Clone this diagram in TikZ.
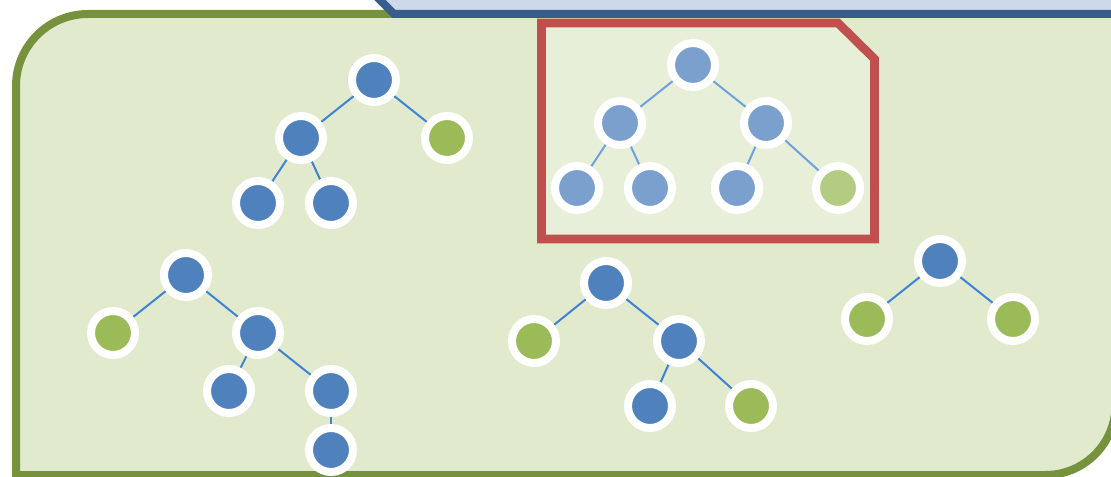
\documentclass[tikz,border=0pt]{standalone}
\pgfdeclarelayer{back}
\pgfdeclarelayer{edges}
\pgfdeclarelayer{front}
\pgfsetlayers{back,edges,main,front}
\begin{document}
\begin{tikzpicture}[x=0.75pt,y=-0.75pt,
  edge/.style={draw=edgeblue,line width=1.5pt},
  tn/.style={circle,draw=white,line width=6pt,minimum size=33pt,inner sep=0pt},
  bn/.style={tn,fill=nodeblue},
  gn/.style={tn,fill=nodegreen}]
\definecolor{nodeblue}{HTML}{4F81BD}
\definecolor{nodegreen}{HTML}{9BBB59}
\definecolor{edgeblue}{HTML}{3C82D6}
\definecolor{olive}{HTML}{76923C}
\definecolor{palegreen}{HTML}{E1EACD}
\definecolor{paleblue}{HTML}{CDD9EA}
\definecolor{darkblue}{HTML}{385D8A}
\definecolor{redline}{HTML}{C0504D}
\useasboundingbox (0,0) rectangle (1111,477);
\clip (0,0) rectangle (1111,477);
\begin{pgfonlayer}{back}
% container
\draw[olive,line width=6pt,fill=palegreen]
  (16,500) -- (16,86) arc[start angle=180,end angle=270,radius=72] -- (1130,14)
  -- (1115.5,14) -- (1115.5,405) arc[start angle=0,end angle=90,radius=70] -- (16,475) -- cycle;
\end{pgfonlayer}
% tree 1
\node[bn] (a1) at (374,80) {};
\node[bn] (a2) at (301,138) {};
\node[gn] (a3) at (447,138) {};
\node[bn] (a4) at (258,203) {};
\node[bn] (a5) at (331,203) {};
% tree 2 (highlighted)
\node[bn] (b1) at (693,65) {};
\node[bn] (b2) at (620,123) {};
\node[bn] (b3) at (766,123) {};
\node[bn] (b4) at (577,188) {};
\node[bn] (b5) at (650,188) {};
\node[bn] (b6) at (737,188) {};
\node[gn] (b7) at (838,188) {};
% tree 3
\node[bn] (c1) at (186,275) {};
\node[gn] (c2) at (113,333) {};
\node[bn] (c3) at (258,333) {};
\node[bn] (c4) at (229,391) {};
\node[bn] (c5) at (331,391) {};
\node[bn] (c6) at (331,450) {};
% tree 4
\node[bn] (d1) at (606,283) {};
\node[gn] (d2) at (534,341) {};
\node[bn] (d3) at (679,341) {};
\node[bn] (d4) at (650,406) {};
\node[gn] (d5) at (751,406) {};
% tree 5
\node[bn] (e1) at (940,261) {};
\node[gn] (e2) at (867,319) {};
\node[gn] (e3) at (1013,319) {};
\begin{pgfonlayer}{edges}
\foreach \u/\v in {a1/a2,a1/a3,a2/a4,a2/a5,b1/b2,b1/b3,b2/b4,b2/b5,b3/b6,b3/b7,
  c1/c2,c1/c3,c3/c4,c3/c5,c5/c6,d1/d2,d1/d3,d3/d4,d3/d5,e1/e2,e1/e3}
  \draw[edge] (\u.center) -- (\v.center);
\end{pgfonlayer}
\begin{pgfonlayer}{front}
% highlight box
\coordinate (r1) at (541.5,23);
\coordinate (r2) at (838,23);
\coordinate (r3) at (874.5,59);
\coordinate (r4) at (874.5,239);
\coordinate (r5) at (541.5,239);
\fill[white,opacity=0.25] (r1) -- (r2) -- (r3) -- (r4) -- (r5) -- cycle;
\draw[redline,line width=6.5pt,miter limit=10] (r1) -- (r2) -- (r3) -- (r4) -- (r5) -- cycle;
% blue shape at top
\fill[paleblue] (366,-14) -- (394,14) -- (1130,14) -- (1130,-14) -- cycle;
\draw[darkblue,line width=6pt] (366,-14) -- (394,14) -- (1130,14);
\end{pgfonlayer}
\end{tikzpicture}
\end{document}
